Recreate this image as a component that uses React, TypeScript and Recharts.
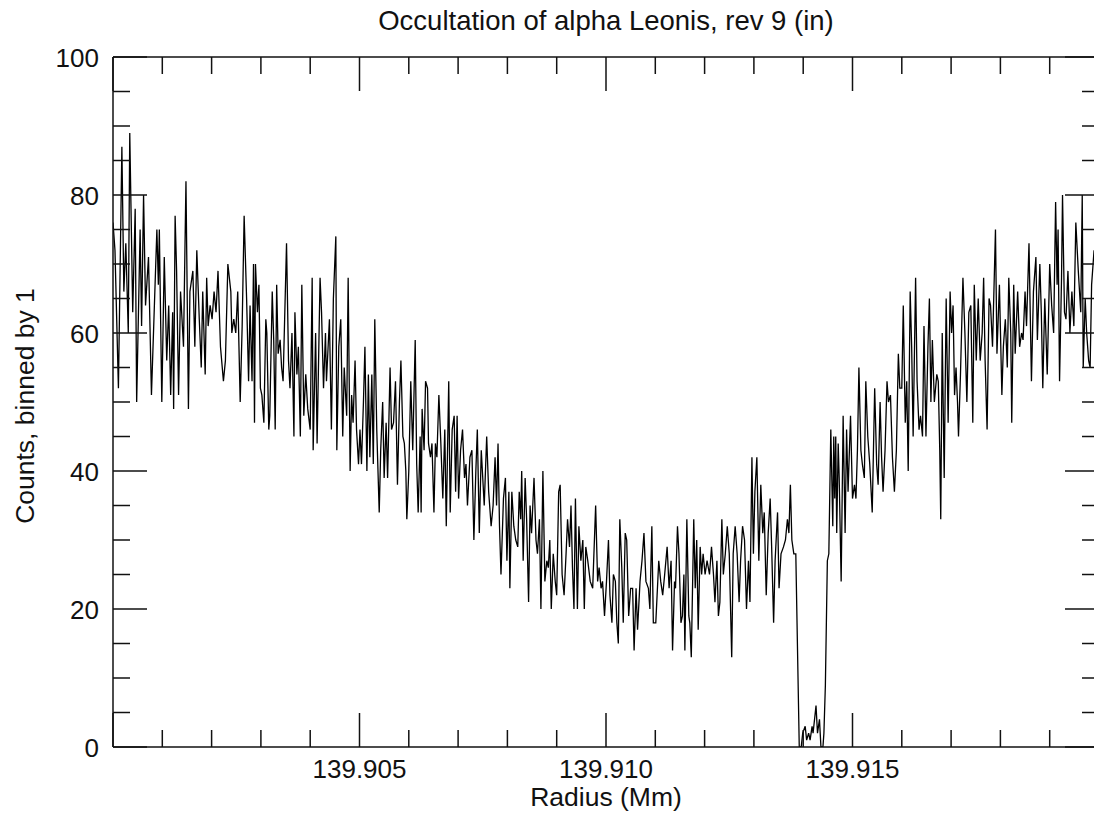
import React from 'react';
import { LineChart, Line, XAxis, YAxis } from 'recharts';

const FONT = '"Liberation Sans", Arial, Helvetica, sans-serif';
const INK = '#111';

const chartTitle = 'Occultation of alpha Leonis, rev 9 (in)';
const xTitle = 'Radius (Mm)';
const yTitle = 'Counts, binned by 1';

const xTicks = [
  139.9, 139.901, 139.902, 139.903, 139.904, 139.905, 139.906, 139.907, 139.908, 139.909, 139.91,
  139.911, 139.912, 139.913, 139.914, 139.915, 139.916, 139.917, 139.918, 139.919, 139.92,
];
const xMajorTicks = [139.9, 139.905, 139.91, 139.915, 139.92];
const xLabelledTicks = [139.905, 139.91, 139.915];
const yTicks = [0, 5, 10, 15, 20, 25, 30, 35, 40, 45, 50, 55, 60, 65, 70, 75, 80, 85, 90, 95, 100];
const yLabelledTicks = [0, 20, 40, 60, 80, 100];

// [radius (Mm), counts], left to right
const outerEdge: [number, number][] = [
  [139.90000, 76], [139.90004, 72], [139.90011, 52], [139.90018, 87], [139.90022, 66], [139.90026, 73], [139.90031, 60], [139.90034, 89],
  [139.90040, 63], [139.90045, 78], [139.90048, 50], [139.90055, 75], [139.90058, 61], [139.90062, 80], [139.90066, 64], [139.90072, 71],
  [139.90078, 51], [139.90089, 75], [139.90092, 67], [139.90094, 75], [139.90099, 50], [139.90104, 71], [139.90109, 56], [139.90113, 64],
  [139.90117, 51], [139.90121, 63], [139.90123, 49], [139.90126, 77], [139.90129, 69], [139.90133, 51], [139.90137, 66], [139.90143, 58],
  [139.90148, 82], [139.90153, 49], [139.90156, 66], [139.90162, 69], [139.90166, 58], [139.90170, 72], [139.90175, 62], [139.90179, 55],
  [139.90182, 66], [139.90187, 54], [139.90190, 68], [139.90193, 61], [139.90197, 64], [139.90201, 62], [139.90205, 66], [139.90209, 63],
  [139.90213, 69], [139.90218, 58], [139.90224, 53], [139.90228, 56], [139.90233, 70],
];
const slopeOne: [number, number][] = [
  [139.90239, 66], [139.90241, 60], [139.90245, 62], [139.90249, 60], [139.90253, 66], [139.90258, 50], [139.90262, 61], [139.90266, 77],
  [139.90271, 65], [139.90275, 53], [139.90278, 64], [139.90282, 53], [139.90285, 70], [139.90287, 47], [139.90289, 70], [139.90293, 63],
  [139.90296, 67], [139.90299, 52], [139.90302, 51], [139.90306, 47], [139.90310, 62], [139.90312, 60], [139.90316, 46], [139.90318, 48],
  [139.90323, 66], [139.90326, 59], [139.90329, 46], [139.90332, 67], [139.90335, 57], [139.90339, 59], [139.90342, 55], [139.90345, 53],
  [139.90352, 73], [139.90356, 56], [139.90359, 52], [139.90363, 60], [139.90367, 45], [139.90369, 63], [139.90373, 54], [139.90376, 58],
  [139.90380, 45], [139.90383, 67], [139.90387, 48], [139.90391, 54], [139.90395, 49], [139.90400, 46], [139.90404, 68], [139.90406, 43],
  [139.90411, 60], [139.90414, 44], [139.90420, 68], [139.90423, 63], [139.90427, 52], [139.90431, 60], [139.90433, 53], [139.90439, 62],
  [139.90443, 46], [139.90447, 65], [139.90452, 74], [139.90454, 43], [139.90458, 58], [139.90462, 62],
];
const slopeTwo: [number, number][] = [
  [139.90466, 45], [139.90469, 55], [139.90474, 48], [139.90477, 68], [139.90481, 40], [139.90484, 51], [139.90487, 47], [139.90491, 56],
  [139.90494, 46], [139.90498, 41], [139.90501, 46], [139.90504, 41], [139.90508, 50], [139.90511, 58], [139.90515, 40], [139.90518, 54],
  [139.90521, 42], [139.90525, 54], [139.90528, 41], [139.90531, 62], [139.90535, 46], [139.90540, 34], [139.90543, 43], [139.90547, 50],
  [139.90550, 39], [139.90554, 47], [139.90557, 39], [139.90562, 55], [139.90565, 46], [139.90569, 47], [139.90573, 53], [139.90577, 38],
  [139.90581, 50], [139.90584, 56], [139.90588, 45], [139.90591, 44], [139.90594, 40], [139.90596, 33], [139.90600, 40], [139.90604, 53],
  [139.90608, 43], [139.90613, 59], [139.90616, 41], [139.90619, 34], [139.90623, 45], [139.90625, 34], [139.90627, 49], [139.90631, 43],
  [139.90634, 53], [139.90638, 52], [139.90640, 44], [139.90644, 42], [139.90647, 44], [139.90651, 34], [139.90654, 44], [139.90657, 42],
  [139.90661, 51], [139.90665, 44], [139.90669, 36], [139.90673, 46], [139.90676, 32], [139.90681, 53], [139.90684, 34], [139.90688, 46],
  [139.90692, 48], [139.90695, 37], [139.90698, 48], [139.90701, 36], [139.90705, 43], [139.90709, 46], [139.90713, 39], [139.90716, 41],
  [139.90719, 35], [139.90724, 42],
];
const slopeThree: [number, number][] = [
  [139.90728, 43], [139.90732, 30], [139.90736, 40], [139.90739, 46], [139.90743, 31], [139.90747, 43], [139.90753, 35], [139.90758, 45],
  [139.90762, 37], [139.90767, 32], [139.90771, 35], [139.90775, 42], [139.90778, 35], [139.90781, 44], [139.90784, 32], [139.90787, 25],
  [139.90792, 36], [139.90796, 39], [139.90799, 27], [139.90803, 37], [139.90805, 23], [139.90809, 37], [139.90813, 32], [139.90817, 30],
  [139.90821, 29], [139.90824, 37], [139.90827, 33], [139.90829, 40], [139.90832, 27], [139.90836, 39], [139.90839, 33], [139.90843, 21],
  [139.90846, 35], [139.90849, 31], [139.90854, 39], [139.90858, 30], [139.90861, 28], [139.90865, 33], [139.90868, 20], [139.90872, 40],
  [139.90876, 24], [139.90880, 27], [139.90883, 26], [139.90886, 30], [139.90889, 20], [139.90893, 28], [139.90897, 24], [139.90900, 22],
  [139.90904, 37], [139.90907, 38], [139.90911, 25], [139.90915, 22], [139.90919, 28], [139.90922, 33], [139.90926, 29], [139.90929, 35],
  [139.90932, 26], [139.90935, 20], [139.90938, 36], [139.90942, 20], [139.90945, 32], [139.90949, 27], [139.90953, 30], [139.90956, 20],
  [139.90959, 29], [139.90963, 27], [139.90968, 24],
];
const trough: [number, number][] = [
  [139.90973, 23], [139.90979, 35], [139.90983, 24], [139.90986, 26], [139.90990, 23], [139.90993, 24], [139.90997, 19], [139.91001, 24],
  [139.91005, 30], [139.91008, 22], [139.91012, 18], [139.91015, 25], [139.91019, 24], [139.91022, 18], [139.91025, 15], [139.91028, 33],
  [139.91032, 26], [139.91035, 18], [139.91039, 31], [139.91042, 30], [139.91046, 19], [139.91050, 23], [139.91054, 23], [139.91057, 14],
  [139.91061, 23], [139.91064, 17], [139.91069, 24], [139.91073, 27], [139.91077, 31], [139.91081, 24], [139.91086, 23], [139.91089, 20],
  [139.91093, 32], [139.91096, 18], [139.91101, 18], [139.91107, 27], [139.91111, 24], [139.91115, 22], [139.91119, 25], [139.91124, 29],
  [139.91128, 23], [139.91132, 27], [139.91135, 14], [139.91139, 24], [139.91141, 23], [139.91145, 32], [139.91148, 28], [139.91152, 18],
  [139.91155, 19], [139.91158, 25], [139.91160, 14], [139.91164, 33], [139.91168, 19], [139.91170, 18], [139.91173, 13], [139.91178, 33],
  [139.91181, 23], [139.91184, 30], [139.91187, 17], [139.91191, 29], [139.91194, 25], [139.91197, 28], [139.91201, 25], [139.91205, 27],
  [139.91210, 25],
];
const preGap: [number, number][] = [
  [139.91214, 29], [139.91218, 25], [139.91221, 21], [139.91225, 27], [139.91228, 19], [139.91231, 21], [139.91235, 33], [139.91238, 25],
  [139.91242, 28], [139.91246, 32], [139.91250, 28], [139.91255, 13], [139.91258, 28], [139.91262, 32], [139.91266, 28], [139.91270, 21],
  [139.91273, 27], [139.91277, 32], [139.91281, 30], [139.91285, 20], [139.91289, 27], [139.91292, 21], [139.91296, 42], [139.91299, 28],
  [139.91302, 37], [139.91306, 42], [139.91310, 27], [139.91314, 38], [139.91318, 31], [139.91321, 34], [139.91325, 22], [139.91329, 31],
  [139.91333, 36], [139.91336, 29], [139.91340, 18], [139.91343, 27], [139.91348, 34], [139.91351, 23], [139.91355, 28], [139.91360, 29],
  [139.91364, 30], [139.91368, 33], [139.91371, 31], [139.91374, 38], [139.91377, 30], [139.91381, 28], [139.91385, 28],
];
const occultation: [number, number][] = [
  [139.91392, 0], [139.91396, 0], [139.91399, 2], [139.91404, 3], [139.91407, 1], [139.91411, 2], [139.91414, 1], [139.91418, 3],
  [139.91420, 2], [139.91426, 6], [139.91429, 2], [139.91433, 4], [139.91436, 0], [139.91440, 0], [139.91442, 2], [139.91445, 9],
  [139.91449, 27], [139.91452, 28],
];
const riseOne: [number, number][] = [
  [139.91456, 46], [139.91460, 32], [139.91462, 45], [139.91464, 36], [139.91466, 45], [139.91468, 31], [139.91471, 44], [139.91473, 39],
  [139.91477, 24], [139.91481, 48], [139.91485, 31], [139.91488, 46], [139.91491, 37], [139.91496, 48], [139.91500, 36], [139.91504, 38],
  [139.91507, 36], [139.91510, 43], [139.91513, 55], [139.91517, 43], [139.91520, 41], [139.91524, 39], [139.91527, 53], [139.91531, 45],
  [139.91535, 41], [139.91540, 34], [139.91545, 52], [139.91549, 41], [139.91552, 38], [139.91556, 50], [139.91559, 42], [139.91562, 37],
  [139.91566, 43], [139.91570, 53], [139.91573, 50], [139.91577, 51], [139.91581, 42], [139.91585, 37], [139.91589, 43], [139.91593, 57],
  [139.91596, 52], [139.91600, 52], [139.91603, 64], [139.91607, 47], [139.91610, 53], [139.91613, 40], [139.91617, 66], [139.91620, 58],
  [139.91623, 45], [139.91628, 68], [139.91631, 53], [139.91635, 46], [139.91638, 48], [139.91642, 45], [139.91645, 61], [139.91649, 45],
  [139.91653, 58], [139.91656, 65], [139.91659, 50], [139.91662, 59], [139.91666, 50], [139.91671, 54], [139.91674, 53], [139.91677, 43],
  [139.91679, 33], [139.91682, 60], [139.91686, 39], [139.91690, 65], [139.91694, 47], [139.91698, 66],
];
const riseTwo: [number, number][] = [
  [139.91701, 60], [139.91704, 64], [139.91707, 51], [139.91710, 55], [139.91713, 50], [139.91715, 45], [139.91719, 54], [139.91724, 68],
  [139.91728, 60], [139.91732, 50], [139.91736, 63], [139.91740, 64], [139.91744, 47], [139.91747, 67], [139.91751, 56], [139.91755, 65],
  [139.91759, 56], [139.91763, 60], [139.91766, 68], [139.91769, 56], [139.91773, 46], [139.91777, 65], [139.91780, 64], [139.91784, 58],
  [139.91790, 75], [139.91793, 57], [139.91798, 67], [139.91803, 51], [139.91806, 58], [139.91810, 62], [139.91814, 55], [139.91817, 68],
  [139.91821, 60], [139.91823, 47], [139.91827, 67], [139.91830, 57], [139.91835, 66], [139.91839, 58], [139.91843, 60], [139.91846, 59],
  [139.91850, 66], [139.91853, 61], [139.91858, 73], [139.91863, 53], [139.91867, 66], [139.91872, 71], [139.91875, 59], [139.91880, 70],
  [139.91883, 63], [139.91886, 52], [139.91890, 65], [139.91895, 54], [139.91900, 70], [139.91904, 64], [139.91908, 60], [139.91912, 79],
  [139.91915, 67], [139.91917, 75], [139.91920, 53], [139.91924, 68], [139.91926, 80], [139.91930, 63], [139.91933, 62], [139.91937, 69],
  [139.91941, 60], [139.91945, 66], [139.91949, 61], [139.91953, 76], [139.91958, 69], [139.91963, 63], [139.91966, 80], [139.91968, 55],
  [139.91972, 65], [139.91975, 60], [139.91979, 56], [139.91982, 55], [139.91985, 67], [139.91990, 72],
];

const segments = [outerEdge, slopeOne, slopeTwo, slopeThree, trough, preGap, occultation, riseOne, riseTwo];
const data = segments.flat().map(([r, c]) => ({ r, c }));

const near = (list: number[], v: number) => list.some((t) => Math.abs(t - v) < 1e-7);

const BottomTick = (props: any) => {
  const { x, y, payload } = props;
  const v = payload.value as number;
  const len = near(xMajorTicks, v) ? 34 : 17;
  return (
    <g>
      <line x1={x} y1={y} x2={x} y2={y - len} stroke={INK} strokeWidth={1.5} />
      {near(xLabelledTicks, v) && (
        <text x={x} y={y + 31} textAnchor="middle" fontFamily={FONT} fontSize={26} fill={INK}>
          {v.toFixed(3)}
        </text>
      )}
    </g>
  );
};

const TopTick = (props: any) => {
  const { x, y, payload } = props;
  const len = near(xMajorTicks, payload.value) ? 34 : 17;
  return <line x1={x} y1={y} x2={x} y2={y + len} stroke={INK} strokeWidth={1.5} />;
};

const LeftTick = (props: any) => {
  const { x, y, payload } = props;
  const v = payload.value as number;
  const major = v % 20 === 0;
  return (
    <g>
      <line x1={x} y1={y} x2={x + (major ? 34 : 17)} y2={y} stroke={INK} strokeWidth={1.5} />
      {near(yLabelledTicks, v) && (
        <text x={x - 14} y={y + 9.5} textAnchor="end" fontFamily={FONT} fontSize={26} fill={INK}>
          {String(v)}
        </text>
      )}
    </g>
  );
};

const RightTick = (props: any) => {
  const { x, y, payload } = props;
  const major = (payload.value as number) % 20 === 0;
  return <line x1={x} y1={y} x2={x - (major ? 34 : 17)} y2={y} stroke={INK} strokeWidth={1.5} />;
};

export default function App() {
  return (
    <div style={{ position: 'relative', width: 1094, height: 814, overflow: 'hidden', background: '#fff' }}>
      <style>{'html,body{margin:0;padding:0;overflow:hidden;background:#fff}'}</style>
      <LineChart width={1110} height={814} data={data} margin={{ top: 50, right: 0, bottom: 0, left: 0 }}>
        <XAxis
          xAxisId="bottom"
          dataKey="r"
          type="number"
          domain={[139.9, 139.92]}
          ticks={xTicks}
          interval={0}
          allowDataOverflow
          height={67}
          tickSize={0}
          tickMargin={0}
          tickLine={false}
          axisLine={{ stroke: INK, strokeWidth: 1.5 }}
          tick={<BottomTick />}
        />
        <XAxis
          xAxisId="top"
          orientation="top"
          dataKey="r"
          type="number"
          domain={[139.9, 139.92]}
          ticks={xTicks}
          interval={0}
          allowDataOverflow
          height={7}
          tickSize={0}
          tickMargin={0}
          tickLine={false}
          axisLine={{ stroke: INK, strokeWidth: 1.5 }}
          tick={<TopTick />}
        />
        <YAxis
          yAxisId="left"
          dataKey="c"
          type="number"
          domain={[0, 100]}
          ticks={yTicks}
          interval={0}
          allowDataOverflow
          width={113}
          tickSize={0}
          tickMargin={0}
          tickLine={false}
          axisLine={{ stroke: INK, strokeWidth: 1.5 }}
          tick={<LeftTick />}
        />
        <YAxis
          yAxisId="right"
          orientation="right"
          dataKey="c"
          type="number"
          domain={[0, 100]}
          ticks={yTicks}
          interval={0}
          allowDataOverflow
          width={11}
          tickSize={0}
          tickMargin={0}
          tickLine={false}
          axisLine={{ stroke: INK, strokeWidth: 1.5 }}
          tick={<RightTick />}
        />
        <Line
          xAxisId="bottom"
          yAxisId="left"
          type="linear"
          dataKey="c"
          stroke="#000"
          strokeWidth={1.3}
          dot={false}
          activeDot={false}
          isAnimationActive={false}
        />
      </LineChart>
      <svg
        width={1094}
        height={814}
        style={{ position: 'absolute', left: 0, top: 0, pointerEvents: 'none' }}
      >
        <text x={606} y={30} textAnchor="middle" fontFamily={FONT} fontSize={27.5} fill={INK}>
          {chartTitle}
        </text>
        <text x={606} y={806} textAnchor="middle" fontFamily={FONT} fontSize={26.5} fill={INK}>
          {xTitle}
        </text>
        <text
          x={34}
          y={406}
          transform="rotate(-90 34 406)"
          textAnchor="middle"
          fontFamily={FONT}
          fontSize={26.5}
          fill={INK}
        >
          {yTitle}
        </text>
      </svg>
    </div>
  );
}
